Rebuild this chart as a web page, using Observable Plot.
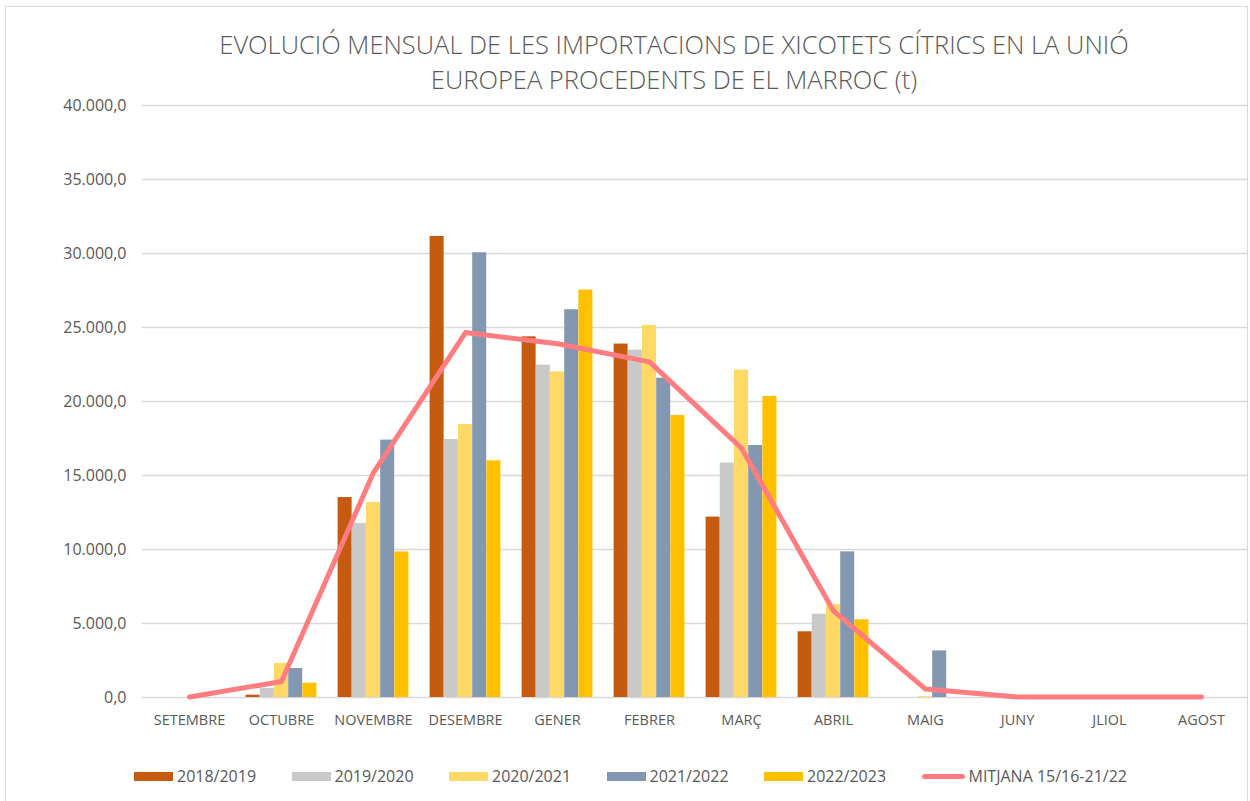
<!DOCTYPE html>
<html>
<head>
<meta charset="utf-8">
<script src="https://cdn.jsdelivr.net/npm/d3@7"></script>
<script src="https://cdn.jsdelivr.net/npm/@observablehq/plot@0.6"></script>
<style>
  html, body { margin: 0; padding: 0; background: #fff; }
  #wrap { position: relative; width: 1250px; height: 801px; overflow: hidden; font-family: "Open Sans", sans-serif; color: #595959; }
  #frame { position: absolute; left: 5px; top: 6px; width: 1241px; height: 820px; border: 1.5px solid #d9d9d9; pointer-events: none; }
  #title { height: 90px; box-sizing: border-box; padding-top: 27px; margin-left: 100px; width: 1148px; text-align: center; font-size: 25.5px; line-height: 35px; font-weight: 300; color: #595959; white-space: nowrap; }
  #chart svg g[aria-label^="x-axis"] text { font-size: 14.5px; }
  #chart svg g[aria-label^="y-axis"] text { font-size: 16px; }
  #legend { display: flex; padding-left: 134px; margin-top: 29px; height: 20px; align-items: center; font-size: 16px; color: #595959; }
  .item { width: 157.5px; flex-shrink: 0; display: flex; align-items: center; white-space: nowrap; }
  .sw { display: inline-block; flex-shrink: 0; width: 39px; height: 9px; margin-right: 4px; }
  .ln { display: inline-block; flex-shrink: 0; width: 43px; height: 5px; border-radius: 3px; margin-right: 4px; }
</style>
</head>
<body>
<div id="wrap">
  <div id="frame"></div>
  <div id="title">EVOLUCIÓ MENSUAL DE LES IMPORTACIONS DE XICOTETS CÍTRICS EN LA UNIÓ<br>EUROPEA PROCEDENTS DE EL MARROC (t)</div>
  <div id="chart"></div>
  <div id="legend"></div>
</div>
<script>
const months = ["SETEMBRE","OCTUBRE","NOVEMBRE","DESEMBRE","GENER","FEBRER","MARÇ","ABRIL","MAIG","JUNY","JLIOL","AGOST"];
const seasons = ["2018/2019","2019/2020","2020/2021","2021/2022","2022/2023"];
const v2018_2019 = [0, 160, 13510, 31150, 24370, 23880, 12190, 4440, 0, 0, 0, 0];
const v2019_2020 = [0, 610, 11760, 17430, 22460, 23470, 15840, 5630, 0, 0, 0, 0];
const v2020_2021 = [0, 2300, 13180, 18450, 22000, 25140, 22120, 6280, 60, 0, 0, 0];
const v2021_2022 = [0, 1960, 17390, 30050, 26200, 21580, 17030, 9840, 3150, 0, 0, 0];
const v2022_2023 = [0, 970, 9840, 15990, 27530, 19050, 20340, 5250, 0, 0, 0, 0];
const mitjana = [30, 1080, 15200, 24660, 23900, 22680, 16850, 5850, 570, 30, 30, 30];
const lineLabel = "MITJANA 15/16-21/22";
const yTicks = [0, 5000, 10000, 15000, 20000, 25000, 30000, 35000, 40000];

const seriesValues = [v2018_2019, v2019_2020, v2020_2021, v2021_2022, v2022_2023];
const colors = ["#C55A11", "#C9C9C9", "#FFD966", "#8497B0", "#FFC000"];
const lineColor = "#FF7C80";

const W = 1250, H = 647, mL = 142, mR = 2, mT = 15, mB = 40;
const bw = (W - mL - mR) / months.length;
const groupW = bw * 0.77;
const barW = groupW / seasons.length;
const outer = (bw - groupW) / 2;

const fmt = d3.formatLocale({decimal: ",", thousands: ".", grouping: [3], currency: ["", "€"]}).format(",.1f");

const barMarks = seriesValues.map((vals, i) => {
  const data = months.map((m, j) => ({month: m, value: vals[j]})).filter(d => d.value > 0);
  return Plot.barY(data, {
    x: "month", y: "value", fill: colors[i],
    insetLeft: outer + i * barW,
    insetRight: bw - outer - (i + 1) * barW
  });
});

const lineData = months.map((m, j) => ({month: m, value: mitjana[j]}));

const chart = Plot.plot({
  width: W, height: H,
  marginLeft: mL, marginRight: mR, marginTop: mT, marginBottom: mB,
  style: {fontFamily: "Open Sans, sans-serif", color: "#595959", background: "transparent"},
  x: {type: "band", domain: months, padding: 0, tickSize: 0, tickPadding: 17, label: null},
  y: {domain: [0, 40000], ticks: yTicks, tickFormat: fmt, tickSize: 0, tickPadding: 16, label: null},
  marks: [
    Plot.ruleY(yTicks, {stroke: "#d9d9d9", strokeWidth: 1.3}),
    ...barMarks,
    Plot.line(lineData, {x: "month", y: "value", stroke: lineColor, strokeWidth: 5, strokeLinejoin: "round", strokeLinecap: "round"})
  ]
});
document.getElementById("chart").appendChild(chart);

const legend = document.getElementById("legend");
seasons.forEach((s, i) => {
  const it = document.createElement("div");
  it.className = "item";
  it.innerHTML = `<span class="sw" style="background:${colors[i]}"></span><span>${s}</span>`;
  legend.appendChild(it);
});
const li = document.createElement("div");
li.className = "item";
li.style.width = "auto";
li.innerHTML = `<span class="ln" style="background:${lineColor}"></span><span>${lineLabel}</span>`;
legend.appendChild(li);
</script>
</body>
</html>
